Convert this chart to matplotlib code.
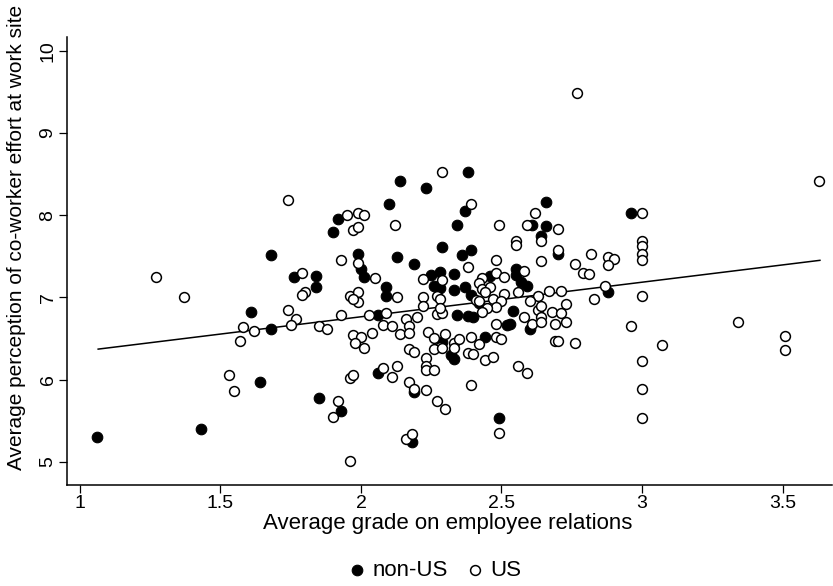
import matplotlib
matplotlib.use('Agg')
import matplotlib.pyplot as plt

plt.rcParams['font.family'] = ['Liberation Sans', 'DejaVu Sans']

# non-US firms (filled)
nonus_x = [1.06, 1.43, 1.61, 1.64, 1.68, 1.68, 1.76, 1.84, 1.84, 1.92, 1.90, 1.99, 2.00, 2.01,
           2.09, 2.09, 2.06, 2.10, 2.06, 1.85, 1.93, 2.14, 2.38, 2.23, 2.37, 2.34, 2.29, 2.39,
           2.36, 2.13, 2.19, 2.25, 2.28, 2.33, 2.26, 2.28, 2.33, 2.37, 2.46, 2.55, 2.55, 2.39,
           2.42, 2.54, 2.34, 2.38, 2.40, 2.29, 2.32, 2.33, 2.44, 2.52, 2.53, 2.19, 2.49, 2.18,
           2.66, 2.96, 2.61, 2.66, 2.64, 2.70, 2.57, 2.59, 2.88, 2.60]
nonus_y = [5.30, 5.40, 6.82, 5.97, 7.51, 6.61, 7.25, 7.26, 7.12, 7.95, 7.79, 7.53, 7.35, 7.25,
           7.12, 7.02, 6.78, 8.14, 6.08, 5.77, 5.62, 8.41, 8.52, 8.33, 8.05, 7.88, 7.61, 7.58,
           7.51, 7.49, 7.41, 7.27, 7.31, 7.28, 7.14, 7.11, 7.09, 7.13, 7.26, 7.35, 7.27, 7.03,
           6.93, 6.83, 6.78, 6.77, 6.76, 6.46, 6.30, 6.25, 6.52, 6.66, 6.68, 5.85, 5.53, 5.24,
           8.16, 8.03, 7.88, 7.87, 7.74, 7.53, 7.19, 7.14, 7.06, 6.62]

# US firms (hollow)
us_x = [1.27, 1.37, 1.58, 1.62, 1.57, 1.53, 1.55, 1.74, 1.95, 1.99, 2.01, 1.97, 1.99, 1.93,
        1.99, 2.05, 1.79, 1.80, 1.79, 1.96, 1.99, 1.99, 1.97, 1.74, 1.77, 1.93, 2.03, 2.09,
        1.75, 1.85, 1.88, 2.08, 2.04, 1.97, 2.00, 1.98, 2.01, 2.08, 2.11, 1.96, 1.97, 1.92,
        1.90, 1.96, 2.29, 2.39, 2.12, 2.49, 2.48, 2.38, 2.55, 2.55, 2.22, 2.29, 2.43, 2.48,
        2.51, 2.13, 2.22, 2.27, 2.28, 2.42, 2.43, 2.46, 2.44, 2.41, 2.42, 2.47, 2.51, 2.50,
        2.48, 2.45, 2.43, 2.56, 2.27, 2.29, 2.22, 2.16, 2.20, 2.28, 2.11, 2.17, 2.14, 2.17,
        2.24, 2.26, 2.30, 2.28, 2.26, 2.29, 2.33, 2.35, 2.33, 2.39, 2.42, 2.48, 2.48, 2.50,
        2.38, 2.40, 2.44, 2.47, 2.17, 2.19, 2.23, 2.23, 2.23, 2.26, 2.13, 2.17, 2.19, 2.23,
        2.39, 2.27, 2.30, 2.56, 2.49, 2.16, 2.18, 2.77, 2.62, 3.00, 2.59, 2.70, 2.64, 3.00,
        3.00, 3.00, 3.00, 2.70, 2.82, 2.64, 2.76, 2.88, 2.90, 2.88, 2.79, 2.81, 2.58, 2.63,
        2.67, 2.71, 2.87, 2.83, 3.00, 2.60, 2.63, 2.64, 2.73, 2.68, 2.71, 2.58, 2.64, 2.61,
        2.64, 2.69, 2.73, 2.69, 2.70, 2.76, 2.96, 3.07, 3.00, 3.00, 3.00, 2.59, 3.63, 3.34,
        3.51, 3.51]
us_y = [7.25, 7.01, 6.64, 6.59, 6.47, 6.06, 5.86, 8.18, 8.00, 8.03, 8.00, 7.82, 7.85, 7.46,
        7.42, 7.24, 7.29, 7.06, 7.03, 7.02, 7.06, 6.94, 6.98, 6.84, 6.74, 6.79, 6.78, 6.81,
        6.66, 6.65, 6.62, 6.66, 6.57, 6.54, 6.52, 6.45, 6.38, 6.14, 6.03, 6.02, 6.05, 5.74,
        5.55, 5.01, 8.52, 8.14, 7.88, 7.88, 7.46, 7.37, 7.68, 7.64, 7.22, 7.21, 7.24, 7.29,
        7.25, 7.01, 7.01, 7.02, 6.98, 7.17, 7.10, 7.12, 7.06, 6.97, 6.95, 6.98, 7.04, 6.95,
        6.88, 6.87, 6.82, 7.07, 6.80, 6.81, 6.89, 6.74, 6.76, 6.87, 6.65, 6.65, 6.55, 6.57,
        6.58, 6.51, 6.55, 6.39, 6.37, 6.38, 6.44, 6.49, 6.38, 6.52, 6.43, 6.67, 6.52, 6.49,
        6.32, 6.31, 6.24, 6.27, 6.37, 6.33, 6.26, 6.16, 6.12, 6.12, 6.16, 5.97, 5.89, 5.87,
        5.93, 5.74, 5.64, 6.16, 5.35, 5.28, 5.34, 9.49, 8.03, 8.03, 7.88, 7.83, 7.69, 7.69,
        7.63, 7.53, 7.46, 7.57, 7.53, 7.44, 7.41, 7.49, 7.47, 7.39, 7.29, 7.28, 7.32, 7.02,
        7.08, 7.08, 7.14, 6.98, 7.02, 6.96, 6.85, 6.89, 6.92, 6.82, 6.81, 6.76, 6.76, 6.68,
        6.70, 6.68, 6.70, 6.47, 6.47, 6.45, 6.65, 6.42, 6.23, 5.88, 5.53, 6.08, 8.42, 6.70,
        6.53, 6.36]

# fitted line
fit_x = [1.065, 3.633]
fit_y = [6.37, 7.45]

xticks = [1, 1.5, 2, 2.5, 3, 3.5]
yticks = [5, 6, 7, 8, 9, 10]

fig = plt.figure(figsize=(8.33, 5.86), dpi=100)
ax = fig.add_axes([0.0804, 0.1732, 0.9184, 0.7637])

ax.scatter(nonus_x, nonus_y, s=58, c='black', edgecolors='black', linewidths=0.8,
           label='non-US', zorder=3)
ax.scatter(us_x, us_y, s=50, facecolors='white', edgecolors='black', linewidths=1.1,
           label='US', zorder=3)
ax.plot(fit_x, fit_y, color='black', lw=1.1, zorder=2)

ax.set_xlim(0.954, 3.676)
ax.set_ylim(4.723, 10.167)
ax.set_xticks(xticks)
ax.set_xticklabels(['1', '1.5', '2', '2.5', '3', '3.5'])
ax.set_yticks(yticks)
ax.set_yticklabels([str(t) for t in yticks], rotation=90, va='center')
ax.tick_params(direction='out', length=6, width=0.9, labelsize=14, pad=1.5)

ax.spines['top'].set_visible(False)
ax.spines['right'].set_visible(False)
for s in ['left', 'bottom']:
    ax.spines[s].set_linewidth(1.1)

ax.set_xlabel('Average grade on employee relations', fontsize=16)
ax.set_ylabel('Average perception of co-worker effort at work site', fontsize=15)
ax.xaxis.set_label_coords(0.498, -0.064)
ax.yaxis.set_label_coords(-0.054, 0.553)

leg = fig.legend(loc='center', bbox_to_anchor=(0.519, 0.027), ncol=2, frameon=False,
                 fontsize=16, handletextpad=0.1, columnspacing=0.6, handlelength=1.2)

fig.savefig('out.png', dpi=100)
